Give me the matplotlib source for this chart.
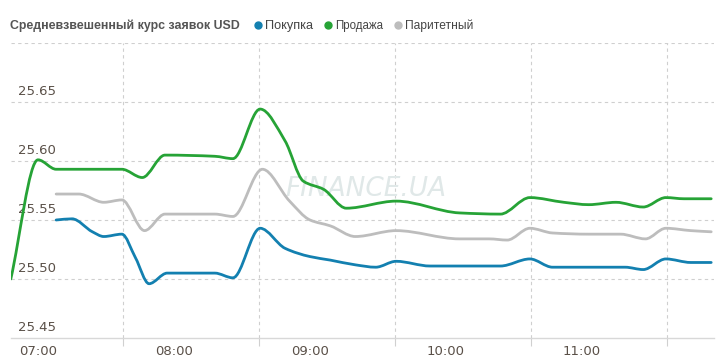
import numpy as np
import matplotlib
matplotlib.use("Agg")
import matplotlib.pyplot as plt
from matplotlib.path import Path
from matplotlib.patches import PathPatch
from matplotlib.lines import Line2D

# ---------------- data ----------------
title = "Средневзвешенный курс заявок USD"
series_names = ["Покупка", "Продажа", "Паритетный"]
series_colors = ["#1380b0", "#26a336", "#bdbdbd"]

sell_times = ["06:48", "07:00", "07:08", "07:37", "07:46", "07:56", "08:18", "08:26",
              "08:38", "08:49", "08:57", "09:06", "09:16", "09:38", "10:06", "10:24",
              "10:37", "10:52", "11:03", "11:15", "11:27", "11:37", "11:45", "11:57"]
sell_vals = [25.500, 25.601, 25.593, 25.593, 25.586, 25.605, 25.604, 25.602,
             25.644, 25.617, 25.583, 25.576, 25.560, 25.566, 25.556, 25.555,
             25.569, 25.565, 25.563, 25.565, 25.561, 25.569, 25.568, 25.568]

par_times = ["07:08", "07:18", "07:29", "07:37", "07:47", "07:56", "08:18", "08:26",
             "08:39", "08:51", "09:00", "09:09", "09:20", "09:38", "10:06", "10:19",
             "10:27", "10:37", "10:47", "11:03", "11:17", "11:28", "11:37", "11:48", "11:57"]
par_vals = [25.572, 25.572, 25.565, 25.567, 25.541, 25.555, 25.555, 25.553,
            25.593, 25.566, 25.550, 25.545, 25.536, 25.541, 25.534, 25.534,
            25.533, 25.543, 25.539, 25.538, 25.538, 25.534, 25.543, 25.541, 25.540]

buy_times = ["07:08", "07:15", "07:24", "07:29", "07:37", "07:43", "07:49", "07:57",
             "08:18", "08:26", "08:38", "08:49", "09:00", "09:09", "09:20", "09:29",
             "09:38", "09:53", "10:06", "10:24", "10:37", "10:47", "11:19", "11:27",
             "11:37", "11:48", "11:57"]
buy_vals = [25.550, 25.551, 25.540, 25.536, 25.538, 25.518, 25.496, 25.505,
            25.505, 25.501, 25.543, 25.526, 25.519, 25.516, 25.512, 25.510,
            25.515, 25.511, 25.511, 25.511, 25.517, 25.510, 25.510, 25.508,
            25.517, 25.514, 25.514]

x_tick_labels = ["07:00", "08:00", "09:00", "10:00", "11:00"]
y_ticks = [25.45, 25.50, 25.55, 25.60, 25.65]


def to_h(t):
    h, m = t.split(":")
    return int(h) + int(m) / 60.0


def pchip_slopes(x, y):
    x = np.asarray(x, float); y = np.asarray(y, float)
    h = np.diff(x); d = np.diff(y) / h
    n = len(x); m = np.zeros(n)
    for i in range(1, n - 1):
        if d[i - 1] * d[i] <= 0:
            m[i] = 0.0
        else:
            w1 = 2 * h[i] + h[i - 1]; w2 = h[i] + 2 * h[i - 1]
            m[i] = (w1 + w2) / (w1 / d[i - 1] + w2 / d[i])
    m[0] = d[0]; m[-1] = d[-1]
    return m


def smooth_path(x, y):
    x = np.asarray(x, float); y = np.asarray(y, float)
    m = pchip_slopes(x, y)
    verts = [(x[0], y[0])]; codes = [Path.MOVETO]
    for i in range(len(x) - 1):
        dx = x[i + 1] - x[i]
        verts += [(x[i] + dx / 3, y[i] + m[i] * dx / 3),
                  (x[i + 1] - dx / 3, y[i + 1] - m[i + 1] * dx / 3),
                  (x[i + 1], y[i + 1])]
        codes += [Path.CURVE4] * 3
    return Path(verts, codes)


# ---------------- figure ----------------
W, H = 720, 364
fig = plt.figure(figsize=(W / 100, H / 100), dpi=100)
fig.patch.set_facecolor("white")
renderer = fig.canvas.get_renderer()


def fit_text(t, width_px):
    ext = t.get_window_extent(renderer=renderer)
    t.set_fontsize(t.get_fontsize() * width_px / ext.width)


left_px, right_px, top_px, bot_px = 11, 714, 43, 338
ax = fig.add_axes([left_px / W, (H - bot_px) / H, (right_px - left_px) / W, (bot_px - top_px) / H])

x0 = 7 + (left_px - 38) / 136.0
x1 = 7 + (right_px - 38) / 136.0

# background gradient (white top -> light gray bottom)
grad = np.linspace(0, 1, 256)
g = np.clip((grad - 0.5) / 0.5, 0, 1)
col = 1.0 - 0.065 * g
img = np.dstack([col, col, col])[:, :1, :].repeat(2, axis=1)
ax.imshow(img, extent=[0, 1, 1, 0], transform=ax.transAxes, aspect="auto", zorder=0,
          origin="upper")
ax.set_xlim(x0, x1)
ax.set_ylim(25.45, 25.70)

# grid
grid_col = "#cfcfcf"
for yv in [25.50, 25.55, 25.60, 25.65, 25.70]:
    ax.axhline(yv, color=grid_col, lw=0.8, ls=(0, (3, 3)), zorder=1)
vgrid = [7.625 + k for k in range(5)]
for xv in vgrid:
    ax.axvline(xv, color=grid_col, lw=0.8, ls=(0, (3, 3)), zorder=1)

# watermark
ax.text(0.39, 0.505, "FINANCE.UA", transform=ax.transAxes, fontsize=19, style="italic",
        color="#e0e8e8", family="DejaVu Sans", ha="left", va="center", zorder=1)

# series
for times, vals, c in [(sell_times, sell_vals, series_colors[1]),
                       (par_times, par_vals, series_colors[2]),
                       (buy_times, buy_vals, series_colors[0])]:
    xs = [to_h(t) for t in times]
    p = smooth_path(xs, vals)
    ax.add_patch(PathPatch(p, fill=False, edgecolor=c, lw=2.0, zorder=3,
                           capstyle="round", joinstyle="round"))

# axes cosmetics
for s in ["top", "right", "left"]:
    ax.spines[s].set_visible(False)
ax.spines["bottom"].set_color("#d8d8d8")
ax.spines["bottom"].set_linewidth(1.0)

ax.set_xticks([7.0 + k for k in range(5)])
ax.set_xticklabels(x_tick_labels, family="DejaVu Sans")
ax.tick_params(axis="x", which="major", length=0, pad=5, labelsize=9.5, labelcolor="#5a5048")
ax.set_xticks(vgrid, minor=True)
ax.tick_params(axis="x", which="minor", length=6, width=0.8, color="#d0d0d0", direction="out")

ax.set_yticks([])
for yv in y_ticks:
    ax.text(7 / (right_px - left_px), yv + 0.0035, f"{yv:.2f}",
            transform=ax.get_yaxis_transform(), fontsize=9.5, color="#5a5048",
            ha="left", va="bottom", zorder=2, family="DejaVu Sans")

# title + legend
FONT = "Liberation Sans"
tt = fig.text(10 / W, 1 - 26 / H, title, fontsize=10, fontweight="bold", color="#555555",
              ha="left", va="center", family=FONT)
fit_text(tt, 230)
leg = [(258, 265, 48, series_names[0], series_colors[0]),
       (328, 335, 48, series_names[1], series_colors[1]),
       (398, 405, 68, series_names[2], series_colors[2])]
for dx, tx, wpx, name, c in leg:
    fig.add_artist(Line2D([dx / W], [1 - 25 / H], marker="o", markersize=5,
                          color=c, transform=fig.transFigure, ls="none"))
    t = fig.text(tx / W, 1 - 26 / H, name, fontsize=9.5, color="#444444",
                 ha="left", va="center", family=FONT)
    fit_text(t, wpx)

fig.savefig("out.png", dpi=100, facecolor="white")
